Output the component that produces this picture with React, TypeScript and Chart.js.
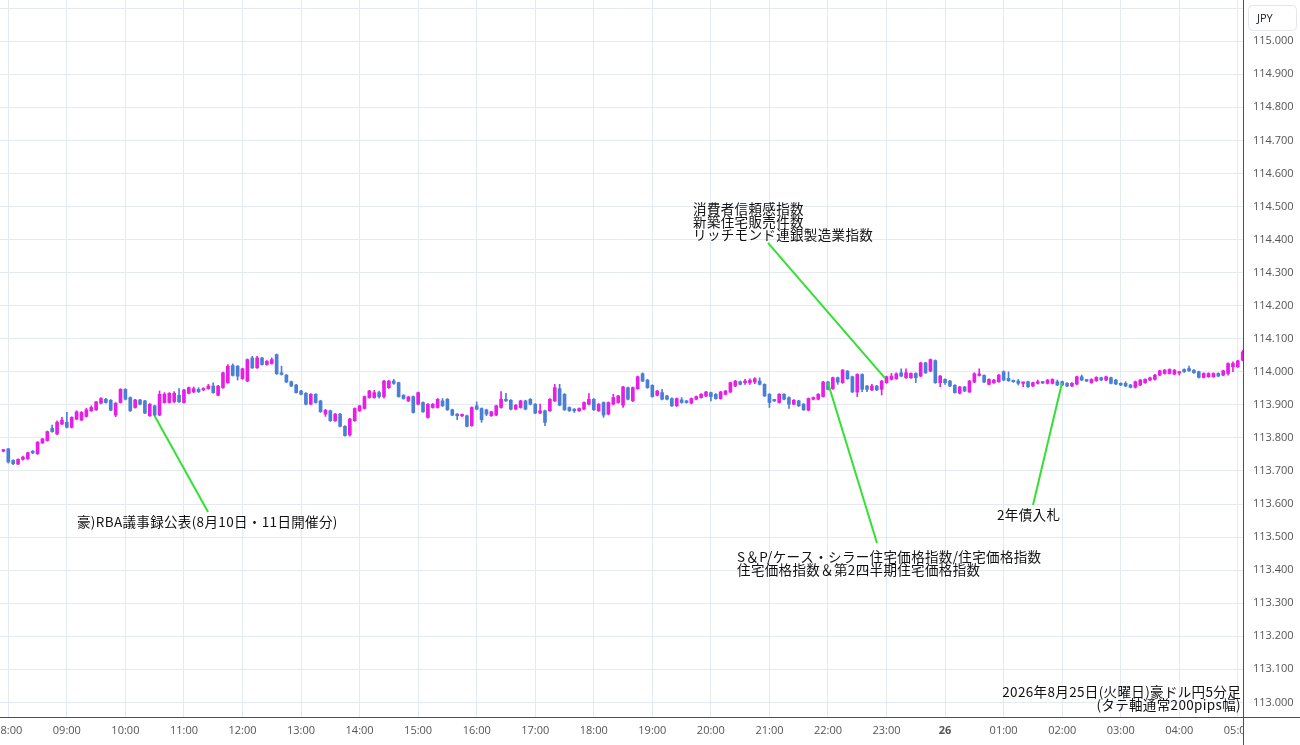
import React, { useEffect, useRef } from 'react';
import { Chart, registerables } from 'chart.js';
Chart.register(...registerables);

// minutes relative to 08:00 of the first candle (07:55), 5-minute candles
const FIRST_CANDLE_MIN = -5;
const CANDLE_MIN = 5;

const OPEN = [
  113.760,
  113.767,113.732,113.721,113.735,113.737,113.758,113.752,113.785,113.792,113.829,113.812,113.842,
  113.847,113.832,113.857,113.854,113.865,113.882,113.885,113.905,113.917,113.914,113.869,113.907,
  113.947,113.922,113.892,113.915,113.912,113.867,113.897,113.869,113.907,113.907,113.910,113.929,
  113.907,113.935,113.939,113.947,113.945,113.949,113.957,113.929,113.952,113.967,114.019,114.017,
  113.979,113.972,114.042,114.012,114.042,114.022,114.025,114.052,113.997,113.990,113.970,113.960,
  113.942,113.935,113.902,113.932,113.912,113.872,113.882,113.852,113.872,113.835,113.809,113.852,
  113.882,113.889,113.922,113.922,113.937,113.925,113.952,113.972,113.967,113.929,113.912,113.925,
  113.902,113.907,113.862,113.892,113.892,113.912,113.917,113.885,113.872,113.867,113.867,113.837,
  113.897,113.889,113.885,113.867,113.869,113.892,113.917,113.914,113.887,113.892,113.912,113.917,
  113.902,113.875,113.882,113.882,113.912,113.949,113.932,113.892,113.887,113.882,113.887,113.902,
  113.917,113.882,113.907,113.872,113.902,113.907,113.899,113.952,113.912,113.949,113.994,113.975,
  113.959,113.929,113.937,113.927,113.919,113.897,113.915,113.912,113.905,113.917,113.922,113.927,
  113.937,113.932,113.919,113.932,113.939,113.957,113.970,113.967,113.967,113.969,113.972,113.962,
  113.932,113.914,113.907,113.932,113.922,113.902,113.912,113.902,113.884,113.917,113.917,113.925,
  113.969,113.949,113.982,113.967,114.002,113.985,113.939,113.992,113.957,113.945,113.957,113.947,
  113.967,113.977,113.979,113.997,113.982,113.982,113.995,113.987,114.027,114.002,114.034,113.967,
  113.977,113.972,113.959,113.935,113.954,113.939,113.969,113.989,113.989,113.962,113.967,113.970,
  114.000,113.980,113.973,113.972,113.965,113.970,113.957,113.965,113.968,113.965,113.965,113.970,
  113.970,113.965,113.957,113.963,113.985,113.975,113.967,113.973,113.982,113.975,113.982,113.975,
  113.965,113.965,113.960,113.953,113.960,113.967,113.975,113.977,113.990,113.995,113.995,113.993,
  113.996,114.007,114.010,114.005,114.000,113.983,113.985,113.985,113.995,113.990,113.995,114.015,
  114.015,114.035,
];
const HIGH = [
  113.765,
  113.768,113.734,113.737,113.745,113.757,113.762,113.789,113.799,113.821,113.839,113.852,113.862,
  113.877,113.864,113.882,113.880,113.890,113.897,113.911,113.922,113.920,113.916,113.907,113.949,
  113.949,113.924,113.917,113.917,113.914,113.904,113.899,113.942,113.937,113.937,113.940,113.949,
  113.947,113.954,113.954,113.952,113.952,113.962,113.967,113.959,113.999,114.022,114.024,114.019,
  114.011,114.039,114.047,114.047,114.044,114.034,114.042,114.054,114.017,113.992,113.972,113.962,
  113.944,113.937,113.934,113.934,113.914,113.886,113.884,113.874,113.874,113.837,113.859,113.891,
  113.899,113.927,113.944,113.944,113.942,113.974,113.974,113.977,113.969,113.931,113.926,113.927,
  113.939,113.909,113.904,113.904,113.919,113.919,113.919,113.887,113.874,113.872,113.869,113.894,
  113.909,113.891,113.887,113.881,113.899,113.940,113.935,113.916,113.901,113.914,113.914,113.919,
  113.904,113.902,113.884,113.919,113.962,113.962,113.934,113.894,113.889,113.891,113.909,113.934,
  113.919,113.904,113.909,113.909,113.932,113.929,113.956,113.954,113.954,113.987,113.997,113.977,
  113.961,113.944,113.947,113.929,113.921,113.921,113.922,113.914,113.921,113.927,113.934,113.941,
  113.939,113.934,113.941,113.944,113.969,113.974,113.972,113.977,113.979,113.982,113.982,113.964,
  113.934,113.916,113.934,113.934,113.924,113.916,113.914,113.904,113.921,113.924,113.934,113.971,
  113.971,113.984,113.984,114.007,114.004,113.987,113.994,113.994,113.959,113.962,113.959,113.974,
  113.987,113.995,113.997,114.009,114.009,113.997,113.997,114.029,114.029,114.039,114.036,113.989,
  113.979,113.974,113.961,113.956,113.956,113.974,113.997,114.009,113.991,113.979,113.977,113.992,
  114.003,114.000,113.975,113.977,113.969,113.972,113.969,113.975,113.970,113.977,113.979,113.975,
  113.972,113.967,113.967,113.987,113.990,113.977,113.979,113.985,113.984,113.987,113.984,113.977,
  113.967,113.970,113.962,113.972,113.977,113.979,113.984,113.992,114.005,114.007,114.009,114.007,
  114.000,114.009,114.017,114.007,114.002,113.997,113.997,113.997,113.997,114.005,114.027,114.030,
  114.035,114.065,
];
const LOW = [
  113.758,
  113.724,113.719,113.719,113.733,113.735,113.752,113.750,113.783,113.790,113.817,113.810,113.840,
  113.830,113.830,113.855,113.852,113.863,113.880,113.883,113.903,113.905,113.882,113.864,113.905,
  113.915,113.880,113.890,113.900,113.873,113.865,113.867,113.867,113.905,113.905,113.907,113.907,
  113.905,113.933,113.937,113.937,113.943,113.947,113.935,113.927,113.950,113.965,113.987,113.975,
  113.977,113.970,114.010,114.010,114.020,114.020,114.023,113.992,113.990,113.967,113.955,113.935,
  113.930,113.900,113.900,113.905,113.877,113.865,113.850,113.850,113.833,113.805,113.805,113.850,
  113.880,113.887,113.920,113.920,113.920,113.920,113.950,113.962,113.923,113.917,113.910,113.875,
  113.900,113.877,113.860,113.890,113.890,113.895,113.883,113.867,113.855,113.864,113.833,113.835,
  113.885,113.847,113.867,113.865,113.867,113.890,113.910,113.885,113.885,113.890,113.885,113.900,
  113.873,113.873,113.837,113.880,113.910,113.897,113.883,113.880,113.877,113.880,113.885,113.900,
  113.883,113.880,113.862,113.870,113.900,113.905,113.892,113.915,113.910,113.947,113.970,113.950,
  113.923,113.927,113.915,113.915,113.895,113.895,113.905,113.905,113.903,113.915,113.920,113.925,
  113.912,113.917,113.917,113.930,113.937,113.955,113.960,113.962,113.962,113.964,113.960,113.925,
  113.892,113.910,113.905,113.915,113.889,113.900,113.895,113.883,113.882,113.915,113.915,113.923,
  113.945,113.947,113.962,113.965,113.977,113.937,113.925,113.940,113.940,113.943,113.943,113.930,
  113.965,113.975,113.977,113.985,113.980,113.980,113.967,113.985,113.995,114.000,113.965,113.955,
  113.962,113.955,113.935,113.933,113.940,113.937,113.967,113.987,113.967,113.960,113.965,113.968,
  113.973,113.971,113.968,113.960,113.955,113.953,113.955,113.963,113.964,113.963,113.963,113.958,
  113.958,113.955,113.955,113.961,113.973,113.970,113.965,113.971,113.973,113.973,113.963,113.961,
  113.958,113.955,113.951,113.951,113.958,113.965,113.973,113.975,113.988,113.993,113.993,113.991,
  113.990,113.998,114.001,113.995,113.981,113.981,113.983,113.983,113.985,113.988,113.990,114.000,
  114.013,114.033,
];
const CLOSE = [
  113.763,
  113.727,113.722,113.735,113.742,113.755,113.755,113.787,113.797,113.819,113.819,113.847,113.854,
  113.832,113.862,113.879,113.877,113.885,113.892,113.909,113.919,113.907,113.884,113.905,113.947,
  113.917,113.882,113.915,113.902,113.875,113.902,113.869,113.932,113.932,113.935,113.935,113.909,
  113.945,113.952,113.949,113.940,113.948,113.957,113.937,113.957,113.997,114.017,113.989,113.987,
  114.009,114.037,114.012,114.042,114.022,114.032,114.037,113.994,113.992,113.969,113.957,113.937,
  113.932,113.902,113.932,113.907,113.879,113.884,113.852,113.872,113.835,113.807,113.857,113.889,
  113.897,113.925,113.942,113.937,113.925,113.972,113.972,113.965,113.925,113.919,113.924,113.877,
  113.937,113.879,113.902,113.902,113.917,113.897,113.885,113.869,113.867,113.869,113.835,113.892,
  113.887,113.855,113.872,113.879,113.897,113.917,113.912,113.887,113.899,113.912,113.887,113.902,
  113.875,113.882,113.847,113.917,113.952,113.899,113.885,113.882,113.882,113.889,113.907,113.917,
  113.885,113.902,113.869,113.907,113.922,113.927,113.954,113.917,113.952,113.985,113.972,113.952,
  113.925,113.942,113.917,113.917,113.897,113.919,113.907,113.907,113.919,113.925,113.932,113.939,
  113.925,113.919,113.939,113.942,113.967,113.972,113.962,113.972,113.974,113.979,113.962,113.927,
  113.907,113.912,113.932,113.917,113.902,113.914,113.897,113.885,113.919,113.922,113.932,113.969,
  113.947,113.982,113.969,114.005,113.979,113.939,113.992,113.947,113.947,113.957,113.945,113.972,
  113.985,113.987,113.994,113.987,113.997,113.995,113.982,114.027,113.997,114.037,113.967,113.987,
  113.967,113.957,113.937,113.954,113.942,113.972,113.994,113.992,113.969,113.977,113.975,113.990,
  113.975,113.973,113.970,113.965,113.967,113.955,113.967,113.970,113.966,113.975,113.977,113.960,
  113.960,113.957,113.965,113.985,113.975,113.972,113.977,113.983,113.975,113.985,113.965,113.963,
  113.960,113.957,113.953,113.970,113.975,113.977,113.982,113.990,114.003,114.005,114.007,114.005,
  113.998,114.000,114.003,113.997,113.983,113.995,113.995,113.995,113.987,114.003,114.025,114.025,
  114.033,114.060,
];

// hour ticks (minutes from 08:00) and their labels
const HOUR_TICK_MIN = [0,60,120,180,240,300,360,420,480,540,600,660,720,780,840,900,960,1020,1080,1140,1200,1260];
const HOUR_LABELS = ['08:00','09:00','10:00','11:00','12:00','13:00','14:00','15:00','16:00','17:00','18:00','19:00','20:00','21:00','22:00','23:00','26','01:00','02:00','03:00','04:00','05:00'];

const PRICE_TICKS = [113.0,113.1,113.2,113.3,113.4,113.5,113.6,113.7,113.8,113.9,114.0,114.1,114.2,114.3,114.4,114.5,114.6,114.7,114.8,114.9,115.0,115.1];
const PRICE_LABELS = ['113.000','113.100','113.200','113.300','113.400','113.500','113.600','113.700','113.800','113.900','114.000','114.100','114.200','114.300','114.400','114.500','114.600','114.700','114.800','114.900','115.000',''];

const X_MIN = -8.5;
const X_MAX = 1265.3;
const Y_MIN = 112.9558;
const Y_MAX = 115.1246;

const ANNOTATIONS = [
  { lines: ['豪)RBA議事録公表(8月10日・11日開催分)'], textMin: 70.4, textPrice: 113.546, fromMin: 150, fromPrice: 113.866, toMin: 204.7, toPrice: 113.576 },
  { lines: ['消費者信頼感指数', '新築住宅販売件数', 'リッチモンド連銀製造業指数'], textMin: 701.7, textPrice: 114.494, fromMin: 898.4, fromPrice: 113.981, toMin: 778.5, toPrice: 114.390 },
  { lines: ['S＆P/ケース・シラー住宅価格指数/住宅価格指数', '住宅価格指数＆第2四半期住宅価格指数'], textMin: 746.8, textPrice: 113.440, fromMin: 840, fromPrice: 113.966, toMin: 890.2, toPrice: 113.482 },
  { lines: ['2年債入札'], textMin: 1013.2, textPrice: 113.567, fromMin: 1079.8, fromPrice: 113.966, toMin: 1050.1, toPrice: 113.597 },
];
const CAPTION = ['2026年8月25日(火曜日)豪ドル円5分足', '(タテ軸通常200pips幅)'];

const UP = '#e61ee6';
const DOWN = '#4a7fd6';
const GRID = '#e4eaef';
const GREEN = '#33e033';
const JP_FONT = '"Noto Sans CJK JP", "Noto Sans", sans-serif';
const TICK_FONT = '"Open Sans", "DejaVu Sans", sans-serif';

export default function App() {
  const ref = useRef<HTMLCanvasElement | null>(null);

  useEffect(() => {
    if (!ref.current) return;
    const xs = OPEN.map((_, i) => FIRST_CANDLE_MIN + i * CANDLE_MIN);
    const colors = OPEN.map((o, i) => (CLOSE[i] >= o ? UP : DOWN));

    const setJp = (ctx: any) => {
      ctx.font = '13.5px ' + JP_FONT;
      try { ctx.letterSpacing = '0.35px'; } catch (e) { /* ignore */ }
    };

    const overlay = {
      id: 'overlay',
      afterDatasetsDraw(chart: any) {
        const { ctx, scales, chartArea } = chart;
        const x = scales.x, y = scales.y;
        ctx.save();
        for (const a of ANNOTATIONS) {
          ctx.strokeStyle = GREEN;
          ctx.lineWidth = 2;
          ctx.beginPath();
          ctx.moveTo(x.getPixelForValue(a.fromMin), y.getPixelForValue(a.fromPrice));
          ctx.lineTo(x.getPixelForValue(a.toMin), y.getPixelForValue(a.toPrice));
          ctx.stroke();
          ctx.fillStyle = '#111';
          setJp(ctx);
          ctx.textBaseline = 'middle';
          ctx.textAlign = 'left';
          const tx = x.getPixelForValue(a.textMin);
          const ty = y.getPixelForValue(a.textPrice);
          a.lines.forEach((l, i) => ctx.fillText(l, tx, ty + i * 13));
        }
        ctx.textAlign = 'right';
        ctx.fillStyle = '#111';
        setJp(ctx);
        ctx.fillText(CAPTION[0], chartArea.right - 2, chartArea.bottom - 25);
        ctx.fillText(CAPTION[1], chartArea.right - 2, chartArea.bottom - 12);
        ctx.restore();
      },
      afterDraw(chart: any) {
        const { ctx, chartArea, width, height } = chart;
        ctx.save();
        ctx.fillStyle = '#ffffff';
        ctx.fillRect(chartArea.right + 1, chartArea.bottom + 1, width - chartArea.right, height - chartArea.bottom);
        ctx.strokeStyle = '#505050';
        ctx.lineWidth = 1;
        ctx.beginPath();
        ctx.moveTo(Math.round(chartArea.right) + 0.5, 0);
        ctx.lineTo(Math.round(chartArea.right) + 0.5, height);
        ctx.moveTo(0, Math.round(chartArea.bottom) + 0.5);
        ctx.lineTo(width, Math.round(chartArea.bottom) + 0.5);
        ctx.stroke();
        // JPY box
        const bx = chartArea.right + 5, by = 5, bw = 48, bh = 25;
        ctx.fillStyle = '#ffffff';
        ctx.strokeStyle = '#e3e6ea';
        ctx.beginPath();
        (ctx as any).roundRect(bx + 0.5, by + 0.5, bw, bh, 4);
        ctx.fill();
        ctx.stroke();
        ctx.fillStyle = '#222';
        ctx.font = '11px ' + TICK_FONT;
        ctx.textAlign = 'left';
        ctx.textBaseline = 'middle';
        ctx.fillText('JPY', bx + 9, by + bh / 2 + 1);
        ctx.restore();
      },
    };

    const chart = new Chart(ref.current, {
      type: 'bar',
      data: {
        datasets: [
          {
            label: 'wick',
            data: xs.map((xv, i) => ({ x: xv, y: [LOW[i], HIGH[i]] })) as any,
            backgroundColor: colors,
            barThickness: 1,
            grouped: false,
            clip: 0 as any,
            order: 2,
          },
          {
            label: 'body',
            data: xs.map((xv, i) => ({ x: xv, y: [OPEN[i], CLOSE[i]] })) as any,
            backgroundColor: colors,
            barThickness: 3,
            minBarLength: 1.5,
            grouped: false,
            clip: 0 as any,
            order: 1,
          },
        ],
      },
      options: {
        animation: false,
        responsive: false,
        devicePixelRatio: 1,
        layout: { padding: 0 },
        plugins: { legend: { display: false }, tooltip: { enabled: false } },
        scales: {
          x: {
            type: 'linear',
            min: X_MIN,
            max: X_MAX,
            offset: false,
            afterBuildTicks: (s: any) => { s.ticks = HOUR_TICK_MIN.map((v) => ({ value: v })); },
            afterFit: (s: any) => { s.height = 28; s.paddingLeft = 0; s.paddingRight = 0; },
            grid: { color: GRID, drawTicks: false, offset: false },
            border: { display: false },
            ticks: {
              autoSkip: false,
              maxRotation: 0,
              padding: 7,
              color: '#555',
              font: (c: any) => ({ family: TICK_FONT, size: 11, weight: c.tick && c.tick.label === '26' ? 'bold' : 'normal' }),
              callback: (_v: any, i: number) => HOUR_LABELS[i],
            },
          },
          y: {
            type: 'linear',
            position: 'right',
            min: Y_MIN,
            max: Y_MAX,
            afterBuildTicks: (s: any) => { s.ticks = PRICE_TICKS.map((v) => ({ value: v })); },
            afterFit: (s: any) => { s.width = 57; s.paddingTop = 0; s.paddingBottom = 0; },
            grid: { color: GRID, drawTicks: false, offset: false },
            border: { display: false },
            ticks: {
              padding: 10,
              color: '#555',
              font: { family: TICK_FONT, size: 11 },
              callback: (_v: any, i: number) => PRICE_LABELS[i],
            },
          },
        },
      },
      plugins: [overlay as any],
    });
    return () => chart.destroy();
  }, []);

  return (
    <div style={{ position: 'fixed', left: 0, top: 0, width: 1300, height: 745, background: '#fff' }}>
      <canvas ref={ref} width={1300} height={745} style={{ display: 'block', width: 1300, height: 745 }} />
    </div>
  );
}
